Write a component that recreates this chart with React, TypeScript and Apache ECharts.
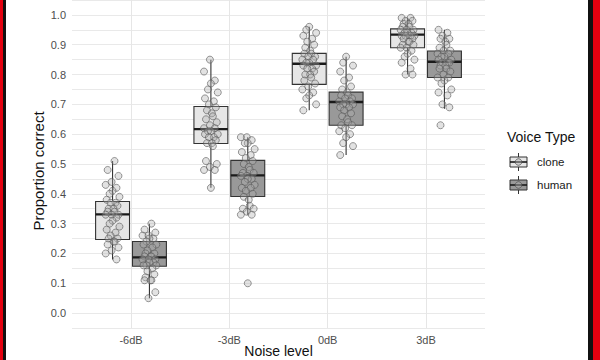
import React, { useEffect, useRef } from "react";
import * as echarts from "echarts";

const categories = ["-6dB", "-3dB", "0dB", "3dB"];

// [min, q1, median, q3, max]
const cloneStats = [
  [0.18, 0.247, 0.331, 0.374, 0.51],
  [0.42, 0.569, 0.617, 0.693, 0.85],
  [0.68, 0.767, 0.836, 0.871, 0.96],
  [0.8, 0.89, 0.934, 0.953, 0.99],
];
const humanStats = [
  [0.05, 0.157, 0.187, 0.24, 0.3],
  [0.33, 0.391, 0.462, 0.512, 0.59],
  [0.53, 0.63, 0.708, 0.741, 0.86],
  [0.685, 0.79, 0.843, 0.879, 0.95],
];

// individual proportions per noise level
const cloneM6 = [0.51, 0.48, 0.46, 0.44, 0.43, 0.42, 0.41, 0.4, 0.39, 0.38, 0.37, 0.37, 0.36, 0.35, 0.35, 0.34, 0.34, 0.33, 0.33, 0.33, 0.32, 0.31, 0.3, 0.29, 0.28, 0.27, 0.26, 0.25, 0.25, 0.24, 0.24, 0.23, 0.22, 0.21, 0.2, 0.18];
const cloneM3 = [0.85, 0.81, 0.78, 0.77, 0.75, 0.74, 0.72, 0.71, 0.7, 0.69, 0.68, 0.67, 0.66, 0.65, 0.64, 0.63, 0.62, 0.62, 0.61, 0.61, 0.6, 0.6, 0.59, 0.59, 0.58, 0.57, 0.57, 0.56, 0.51, 0.5, 0.49, 0.48, 0.48, 0.42];
const clone0 = [0.96, 0.95, 0.94, 0.93, 0.92, 0.91, 0.9, 0.89, 0.88, 0.87, 0.87, 0.86, 0.86, 0.85, 0.85, 0.84, 0.84, 0.83, 0.83, 0.82, 0.82, 0.81, 0.8, 0.8, 0.79, 0.78, 0.77, 0.76, 0.75, 0.74, 0.73, 0.72, 0.7, 0.68];
const clone3 = [0.99, 0.99, 0.98, 0.98, 0.97, 0.97, 0.96, 0.96, 0.95, 0.95, 0.95, 0.94, 0.94, 0.94, 0.93, 0.93, 0.93, 0.93, 0.92, 0.92, 0.91, 0.91, 0.9, 0.9, 0.89, 0.89, 0.88, 0.87, 0.86, 0.85, 0.84, 0.82, 0.8, 0.8];

const humanM6 = [0.3, 0.28, 0.27, 0.26, 0.26, 0.25, 0.25, 0.24, 0.23, 0.23, 0.22, 0.21, 0.2, 0.2, 0.19, 0.19, 0.19, 0.18, 0.18, 0.18, 0.17, 0.17, 0.16, 0.16, 0.16, 0.15, 0.14, 0.13, 0.12, 0.11, 0.11, 0.11, 0.07, 0.05];
const humanM3 = [0.59, 0.59, 0.58, 0.57, 0.57, 0.55, 0.54, 0.53, 0.52, 0.51, 0.5, 0.49, 0.48, 0.47, 0.47, 0.46, 0.46, 0.45, 0.45, 0.44, 0.43, 0.42, 0.42, 0.41, 0.4, 0.39, 0.38, 0.36, 0.35, 0.35, 0.34, 0.33, 0.33, 0.1];
const human0 = [0.86, 0.84, 0.83, 0.81, 0.79, 0.78, 0.76, 0.75, 0.74, 0.73, 0.73, 0.72, 0.72, 0.71, 0.71, 0.7, 0.7, 0.7, 0.69, 0.69, 0.68, 0.67, 0.66, 0.65, 0.64, 0.63, 0.63, 0.62, 0.61, 0.6, 0.59, 0.57, 0.56, 0.53];
const human3 = [0.95, 0.94, 0.93, 0.92, 0.92, 0.91, 0.9, 0.89, 0.88, 0.88, 0.87, 0.87, 0.86, 0.86, 0.85, 0.85, 0.84, 0.84, 0.84, 0.83, 0.83, 0.82, 0.82, 0.81, 0.8, 0.79, 0.79, 0.78, 0.77, 0.75, 0.74, 0.73, 0.7, 0.69, 0.63];

const clonePoints = [cloneM6, cloneM3, clone0, clone3];
const humanPoints = [humanM6, humanM3, human0, human3];

// layout constants
const DODGE = 0.1875;
const BOX_W = 0.345;
const JITTER = [0.02, -0.05, 0.06, -0.01, -0.07, 0.04, 0.0, -0.03, 0.07, -0.06, 0.03, -0.02, 0.05, -0.04, 0.01];

const FONT = "'Liberation Sans', Arial, Helvetica, sans-serif";
const CLONE_FILL = "#e6e6e6";
const HUMAN_FILL = "#999999";
const EDGE = "#333333";
const PT_FILL = "rgba(175,175,175,0.45)";
const PT_EDGE = "rgba(85,85,85,0.75)";

function boxSeries(stats: number[][], off: number, fill: string) {
  return {
    type: "custom",
    xAxisIndex: 0,
    yAxisIndex: 0,
    z: 2,
    encode: { x: 0, y: [1, 2, 3, 4, 5] },
    data: stats.map((s, i) => [i + off, ...s]),
    renderItem: (params: any, api: any) => {
      const x = api.value(0);
      const pMin = api.coord([x, api.value(1)]);
      const pQ1 = api.coord([x, api.value(2)]);
      const pMed = api.coord([x, api.value(3)]);
      const pQ3 = api.coord([x, api.value(4)]);
      const pMax = api.coord([x, api.value(5)]);
      const half = api.size([BOX_W, 0])[0] / 2;
      const cx = pMed[0];
      return {
        type: "group",
        children: [
          { type: "line", shape: { x1: cx, y1: pMin[1], x2: cx, y2: pQ1[1] }, style: { stroke: EDGE, lineWidth: 1.1 } },
          { type: "line", shape: { x1: cx, y1: pQ3[1], x2: cx, y2: pMax[1] }, style: { stroke: EDGE, lineWidth: 1.1 } },
          {
            type: "rect",
            shape: { x: cx - half, y: pQ3[1], width: 2 * half, height: pQ1[1] - pQ3[1] },
            style: { fill, stroke: EDGE, lineWidth: 1.1 },
          },
          { type: "line", shape: { x1: cx - half, y1: pMed[1], x2: cx + half, y2: pMed[1] }, style: { stroke: "#1a1a1a", lineWidth: 2.4 } },
        ],
      };
    },
  };
}

function pointSeries(groups: number[][], off: number) {
  const data: number[][] = [];
  groups.forEach((vals, i) => {
    vals.forEach((v, k) => {
      data.push([i + off + JITTER[(k + i * 3) % JITTER.length], v]);
    });
  });
  return {
    type: "scatter",
    xAxisIndex: 0,
    yAxisIndex: 0,
    z: 3,
    symbol: "circle",
    symbolSize: 7,
    itemStyle: { color: PT_FILL, borderColor: PT_EDGE, borderWidth: 1 },
    data,
  };
}

function legendKey(cy: number, fill: string) {
  const x0 = 510, w = 17, cx = x0 + w / 2;
  return [
    { type: "line", shape: { x1: cx, y1: cy - 9, x2: cx, y2: cy + 9 }, style: { stroke: EDGE, lineWidth: 1 } },
    { type: "rect", shape: { x: x0, y: cy - 5, width: w, height: 10 }, style: { fill, stroke: EDGE, lineWidth: 1 } },
    { type: "line", shape: { x1: x0, y1: cy, x2: x0 + w, y2: cy }, style: { stroke: "#1a1a1a", lineWidth: 1.6 } },
    { type: "circle", shape: { cx, cy, r: 3.3 }, style: { fill: PT_FILL, stroke: PT_EDGE, lineWidth: 1 } },
  ];
}

export default function App() {
  const ref = useRef<HTMLDivElement>(null);
  useEffect(() => {
    if (!ref.current) return;
    const chart = echarts.init(ref.current, undefined, { renderer: "svg" });
    const gridTop = -3;
    const gridBottom = 32;
    chart.setOption({
      animation: false,
      backgroundColor: "#ffffff",
      textStyle: { fontFamily: FONT },
      grid: [
        { left: 72, right: 115, top: gridTop, bottom: gridBottom },
        { left: 131, right: 174, top: gridTop, bottom: gridBottom },
      ],
      xAxis: [
        { gridIndex: 0, type: "value", min: -0.6, max: 3.6, show: false },
        {
          gridIndex: 1,
          type: "category",
          data: categories,
          boundaryGap: false,
          axisLine: { show: false },
          axisTick: { show: false },
          axisLabel: { interval: 0, color: "#4d4d4d", fontSize: 11, margin: 6, fontFamily: FONT },
          splitLine: { show: true, interval: 0, lineStyle: { color: "#e6e6e6", width: 1 } },
        },
      ],
      yAxis: [
        {
          gridIndex: 0,
          type: "value",
          min: -0.05,
          max: 1.05,
          interval: 0.05,
          axisLine: { show: false },
          axisTick: { show: false },
          axisLabel: {
            color: "#4d4d4d",
            fontSize: 11,
            margin: 6,
            fontFamily: FONT,
            formatter: (v: number) => {
              const r = Math.round(v * 100);
              return r % 10 === 0 && r >= 0 && r <= 100 ? (r / 100).toFixed(1) : "";
            },
          },
          splitLine: { show: true, lineStyle: { color: "#e9e9e9", width: 1 } },
        },
        { gridIndex: 1, type: "value", min: -0.05, max: 1.05, show: false },
      ],
      series: [
        boxSeries(cloneStats, -DODGE, CLONE_FILL),
        boxSeries(humanStats, DODGE, HUMAN_FILL),
        pointSeries(clonePoints, -DODGE),
        pointSeries(humanPoints, DODGE),
      ],
      graphic: [
        {
          type: "text",
          x: 38,
          y: 171,
          rotation: Math.PI / 2,
          style: { text: "Proportion correct", fontSize: 15, fill: "#111", align: "center", verticalAlign: "middle", fontFamily: FONT },
        },
        {
          type: "text",
          x: 278.5,
          y: 351,
          style: { text: "Noise level", fontSize: 14, fill: "#111", align: "center", verticalAlign: "middle", fontFamily: FONT },
        },
        {
          type: "text",
          x: 507,
          y: 137,
          style: { text: "Voice Type", fontSize: 14, fill: "#111", align: "left", verticalAlign: "middle", fontFamily: FONT },
        },
        ...legendKey(162, CLONE_FILL),
        ...legendKey(185, HUMAN_FILL),
        {
          type: "text",
          x: 537,
          y: 162,
          style: { text: "clone", fontSize: 11.5, fill: "#1a1a1a", align: "left", verticalAlign: "middle", fontFamily: FONT },
        },
        {
          type: "text",
          x: 537,
          y: 185,
          style: { text: "human", fontSize: 11.5, fill: "#1a1a1a", align: "left", verticalAlign: "middle", fontFamily: FONT },
        },
        { type: "rect", shape: { x: 0, y: 0, width: 3, height: 360 }, style: { fill: "#e3000f" } },
        { type: "rect", shape: { x: 3, y: 0, width: 3, height: 360 }, style: { fill: "#111111" } },
        { type: "rect", shape: { x: 588, y: 0, width: 5, height: 360 }, style: { fill: "#111111" } },
        { type: "rect", shape: { x: 593, y: 0, width: 7, height: 360 }, style: { fill: "#e3000f" } },
      ],
    });
    return () => chart.dispose();
  }, []);
  return (
    <div
      ref={ref}
      style={{ position: "fixed", left: 0, top: 0, width: 600, height: 360 }}
    />
  );
}
